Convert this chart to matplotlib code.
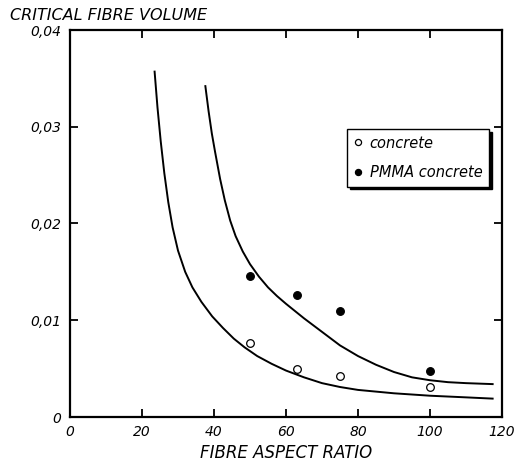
import numpy as np
import matplotlib
matplotlib.use("Agg")
import matplotlib.pyplot as plt
from matplotlib.ticker import FuncFormatter

# measured points
concrete_x = [50, 63, 75, 100]
concrete_y = [0.0077, 0.0050, 0.0042, 0.0031]
pmma_x = [50, 63, 75, 100]
pmma_y = [0.0146, 0.0126, 0.0110, 0.0048]

# curves
lower_x = [23.5, 24.3, 25.2, 26.2, 27.3, 28.5, 30.0, 32.0, 34.0, 36.5, 39.5, 42.5, 45.5, 48.5,
           52.0, 56.0, 60.0, 65.0, 70.0, 75.0, 80.0, 90.0, 100.0, 110.0, 117.4]
lower_y = [0.0357, 0.0320, 0.0285, 0.0252, 0.0222, 0.0196, 0.0172, 0.0150, 0.0134, 0.0119, 0.0104,
           0.0092, 0.0081, 0.0072, 0.0063, 0.0055, 0.0048, 0.0041, 0.0035, 0.0031, 0.0028, 0.00245,
           0.0022, 0.00203, 0.0019]
upper_x = [37.6, 38.5, 39.4, 40.3, 41.7, 43.0, 44.5, 46.0, 48.0, 50.0, 52.5, 55.0, 57.5, 60.0,
           65.0, 70.0, 75.0, 80.0, 85.0, 90.0, 95.0, 100.0, 105.0, 110.0, 117.4]
upper_y = [0.0342, 0.0316, 0.0293, 0.0274, 0.0246, 0.0224, 0.0203, 0.0187, 0.0171, 0.0158, 0.0145,
           0.0134, 0.0125, 0.0117, 0.0102, 0.0088, 0.0074, 0.0063, 0.0054, 0.00465, 0.0041, 0.0038,
           0.0036, 0.0035, 0.0034]

xticks = [0, 20, 40, 60, 80, 100, 120]
yticks = [0, 0.01, 0.02, 0.03, 0.04]

font = {"family": "DejaVu Sans", "style": "italic"}

fig = plt.figure(figsize=(5.15, 4.65), dpi=100)
ax = fig.add_axes([70/515, 48/465, 432/515, 387/465])

ax.plot(lower_x, lower_y, color="black", lw=1.4)
ax.plot(upper_x, upper_y, color="black", lw=1.4)
ax.plot(concrete_x, concrete_y, "o", ms=5.5, mfc="white", mec="black", mew=0.9, label="concrete")
ax.plot(pmma_x, pmma_y, "o", ms=5.5, mfc="black", mec="black", mew=0.9, label="PMMA concrete")

ax.set_xlim(0, 120)
ax.set_ylim(0, 0.04)
ax.set_xticks(xticks)
ax.set_yticks(yticks)
ax.yaxis.set_major_formatter(FuncFormatter(lambda v, p: "0" if v == 0 else ("%.2f" % v).replace(".", ",")))
ax.tick_params(direction="in", length=6, width=1.3, top=True, right=True, pad=6)
for lab in ax.get_xticklabels() + ax.get_yticklabels():
    lab.set_fontfamily("DejaVu Sans")
    lab.set_fontstyle("italic")
    lab.set_fontsize(10)
for s in ax.spines.values():
    s.set_linewidth(1.6)

ax.set_xlabel("FIBRE ASPECT RATIO", fontsize=12, labelpad=3, **font)
fig.text(10/515, 1 - 16/465, "CRITICAL FIBRE VOLUME", fontsize=11.5, va="center", ha="left", **font)

leg = ax.legend(loc="upper left", bbox_to_anchor=(277/432, 288/387), borderaxespad=0,
                frameon=True, fancybox=False, shadow={"color": "black", "alpha": 1},
                handlelength=0.6, handletextpad=0.5, borderpad=0.45, markerscale=0.8,
                labelspacing=1.0, prop={"family": "DejaVu Sans", "style": "italic", "size": 10.5})
leg.get_frame().set_edgecolor("black")
leg.get_frame().set_linewidth(1.0)

fig.savefig("out.png", dpi=100)
